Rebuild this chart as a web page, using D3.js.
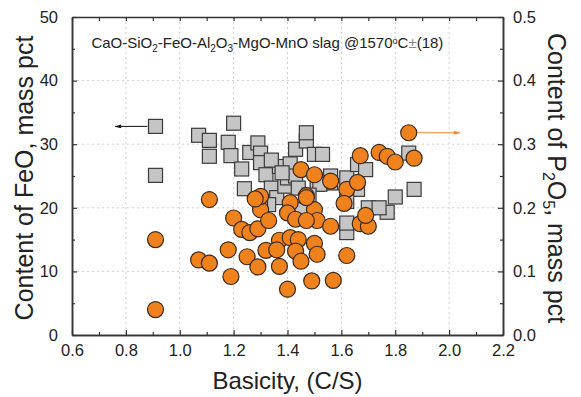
<!DOCTYPE html>
<html>
<head>
<meta charset="utf-8">
<script src="https://cdn.jsdelivr.net/npm/d3@7"></script>
<style>
  body { margin:0; background:#fff; }
  text { font-family: "Liberation Sans", Arial, sans-serif; fill:#222; }
</style>
</head>
<body>
<div id="chart"></div>
<script>
// gray squares: FeO content vs basicity (left axis)
var feoBasicity = [0.91,0.91,1.07,1.11,1.11,1.20,1.18,1.19,1.23,1.26,1.29,1.30,1.30,1.32,1.37,1.43,1.47,1.47,1.41,1.24,
  1.34,1.36,1.39,1.40,1.43,1.44,1.45,1.50,1.53,1.51,1.56,1.62,1.66,1.69,1.85,1.87,1.80,1.77,1.70,1.74,
  1.62,1.62,1.66,1.56,1.52,1.62,1.34,1.38,1.33,1.48,1.30];
var feoValues = [32.8,25.1,31.4,30.6,28.1,33.3,30.3,28.2,26.1,28.7,30.2,28.6,27.1,25.2,26.5,29.2,30.5,31.8,26.9,23.0,
  23.1,21.6,23.4,24.7,25.0,23.1,19.7,28.4,28.4,23.7,25.0,24.7,26.8,26.0,28.6,22.9,21.7,19.3,20.0,20.0,
  16.1,17.6,22.9,23.9,23.7,21.0,27.5,25.5,20.5,22.0,21.0];

// orange circles: P2O5 content vs basicity (right axis)
var p2o5Basicity = [0.91,0.91,1.07,1.11,1.11,1.18,1.19,1.20,1.23,1.26,1.25,1.29,1.29,1.30,1.30,1.28,1.33,1.32,1.37,1.37,
  1.36,1.40,1.41,1.40,1.43,1.41,1.44,1.43,1.45,1.47,1.45,1.49,1.50,1.51,1.50,1.51,1.47,1.50,1.56,1.56,
  1.57,1.62,1.61,1.62,1.66,1.67,1.67,1.70,1.69,1.74,1.77,1.80,1.85,1.87,1.47];
var p2o5Values = [0.150,0.040,0.118,0.113,0.213,0.134,0.092,0.184,0.166,0.161,0.123,0.107,0.167,0.197,0.218,0.214,0.180,0.133,0.149,0.108,
  0.134,0.072,0.208,0.192,0.182,0.153,0.150,0.132,0.116,0.219,0.260,0.085,0.144,0.127,0.197,0.180,0.180,0.252,0.242,0.171,
  0.086,0.229,0.207,0.125,0.240,0.282,0.175,0.171,0.188,0.287,0.281,0.272,0.318,0.278,0.216];

var xTicks = [0.6,0.8,1.0,1.2,1.4,1.6,1.8,2.0,2.2];
var yLeftTicks = [0,10,20,30,40,50];
var yRightTicks = [0,0.1,0.2,0.3,0.4,0.5];

var W = 581, H = 397;
var margin = {top:17, right:78, bottom:62, left:72};
var iw = W - margin.left - margin.right, ih = H - margin.top - margin.bottom;

var svg = d3.select("#chart").append("svg").attr("width",W).attr("height",H);
var g = svg.append("g").attr("transform","translate("+margin.left+","+margin.top+")");

var x = d3.scaleLinear().domain([0.6,2.2]).range([0,iw]);
var yL = d3.scaleLinear().domain([0,50]).range([ih,0]);
var yR = d3.scaleLinear().domain([0,0.5]).range([ih,0]);

// grid
g.selectAll(".gx").data(xTicks.slice(1,-1)).enter().append("line")
  .attr("x1",d=>x(d)).attr("x2",d=>x(d)).attr("y1",0).attr("y2",ih)
  .style("stroke","#cfcfcf").style("stroke-dasharray","2,3").style("stroke-width",1);
g.selectAll(".gy").data(yLeftTicks.slice(1,-1)).enter().append("line")
  .attr("y1",d=>yL(d)).attr("y2",d=>yL(d)).attr("x1",0).attr("x2",iw)
  .style("stroke","#cfcfcf").style("stroke-dasharray","2,3").style("stroke-width",1);

// axes with inward ticks
function styleAxis(sel){
  sel.select(".domain").style("stroke","#333").style("stroke-width",1.5);
  sel.selectAll(".tick line").style("stroke","#333").style("stroke-width",1.2);
  sel.selectAll("text").style("font-size","16.5px").style("font-family","Liberation Sans, Arial, sans-serif").style("fill","#222");
}
var xMinor = d3.range(0.7,2.2,0.2);
var yMinor = d3.range(5,50,10);

var axB = g.append("g").attr("transform","translate(0,"+ih+")")
  .call(d3.axisBottom(x).tickValues(xTicks).tickFormat(d3.format(".1f")).tickSizeInner(-5).tickSizeOuter(0).tickPadding(9));
styleAxis(axB);
g.append("g").attr("transform","translate(0,"+ih+")")
  .call(d3.axisBottom(x).tickValues(xMinor).tickFormat("").tickSizeInner(-3).tickSizeOuter(0)).call(styleAxis);
var axT = g.append("g")
  .call(d3.axisTop(x).tickValues(xTicks.concat(xMinor)).tickFormat("").tickSizeInner(-4).tickSizeOuter(0));
styleAxis(axT);

var axL = g.append("g")
  .call(d3.axisLeft(yL).tickValues(yLeftTicks).tickFormat(d3.format("d")).tickSizeInner(-5).tickSizeOuter(0).tickPadding(14));
styleAxis(axL);
g.append("g").call(d3.axisLeft(yL).tickValues(yMinor).tickFormat("").tickSizeInner(-3).tickSizeOuter(0)).call(styleAxis);

var axR = g.append("g").attr("transform","translate("+iw+",0)")
  .call(d3.axisRight(yR).tickValues(yRightTicks).tickFormat(d3.format(".1f")).tickSizeInner(-5).tickSizeOuter(0).tickPadding(10));
styleAxis(axR);
g.append("g").attr("transform","translate("+iw+",0)")
  .call(d3.axisRight(yR).tickValues(yRightTicks.slice(0,-1).map(d=>d+0.05)).tickFormat("").tickSizeInner(-3).tickSizeOuter(0)).call(styleAxis);

// arrows
var defs = svg.append("defs");
function marker(id,color){
  defs.append("marker").attr("id",id).attr("viewBox","0 0 10 6").attr("refX",9).attr("refY",3)
    .attr("markerWidth",8).attr("markerHeight",4).attr("orient","auto")
    .append("path").attr("d","M0,0L10,3L0,6Z").style("fill",color);
}
marker("arrL","#111");
marker("arrR","#f08a2a");
g.append("line").attr("x1",x(0.88)).attr("x2",x(0.76)).attr("y1",yL(feoValues[0])).attr("y2",yL(feoValues[0]))
  .style("stroke","#111").style("stroke-width",1).attr("marker-end","url(#arrL)");
g.append("line").attr("x1",x(1.88)).attr("x2",x(2.04)).attr("y1",yR(p2o5Values[52])).attr("y2",yR(p2o5Values[52]))
  .style("stroke","#f08a2a").style("stroke-width",1).attr("marker-end","url(#arrR)");

// data
var sq = 14;
g.selectAll(".sq").data(feoValues).enter().append("rect")
  .attr("x",(d,i)=>x(feoBasicity[i])-sq/2).attr("y",d=>yL(d)-sq/2)
  .attr("width",sq).attr("height",sq)
  .style("fill","#c5c5c5").style("stroke","#3a3a3a").style("stroke-width",1.2);
g.selectAll(".ci").data(p2o5Values).enter().append("circle")
  .attr("cx",(d,i)=>x(p2o5Basicity[i])).attr("cy",d=>yR(d)).attr("r",8)
  .style("fill","#f0821e").style("stroke","#3a2a1c").style("stroke-width",1.2);

// annotation
var ann = g.append("text").attr("x",x(0.672)).attr("y",yL(45.2)).style("font-size","15px");
ann.append("tspan").text("CaO-SiO");
ann.append("tspan").text("2").attr("baseline-shift","-35%").style("font-size","10px");
ann.append("tspan").text("-FeO-Al");
ann.append("tspan").text("2").attr("baseline-shift","-35%").style("font-size","10px");
ann.append("tspan").text("O");
ann.append("tspan").text("3").attr("baseline-shift","-35%").style("font-size","10px");
ann.append("tspan").text("-MgO-MnO slag @1570");
ann.append("tspan").text("o").attr("baseline-shift","45%").style("font-size","9px");
ann.append("tspan").text("C");
ann.append("tspan").text("\u00b1").style("fill","#888");
ann.append("tspan").text("(18)");

// axis titles
svg.append("text").attr("x",margin.left+iw/2).attr("y",389).attr("text-anchor","middle")
  .style("font-size","24px").text("Basicity, (C/S)");
svg.append("text").attr("transform","translate(33,178) rotate(-90)").attr("text-anchor","middle")
  .style("font-size","25px").text("Content of FeO, mass pct");
var rt = svg.append("text").attr("transform","translate(548,178) rotate(90)").attr("text-anchor","middle")
  .style("font-size","25px");
rt.append("tspan").text("Content of P");
rt.append("tspan").text("2").attr("baseline-shift","-30%").style("font-size","16px");
rt.append("tspan").text("O");
rt.append("tspan").text("5").attr("baseline-shift","-30%").style("font-size","16px");
rt.append("tspan").text(", mass pct");
</script>
</body>
</html>
